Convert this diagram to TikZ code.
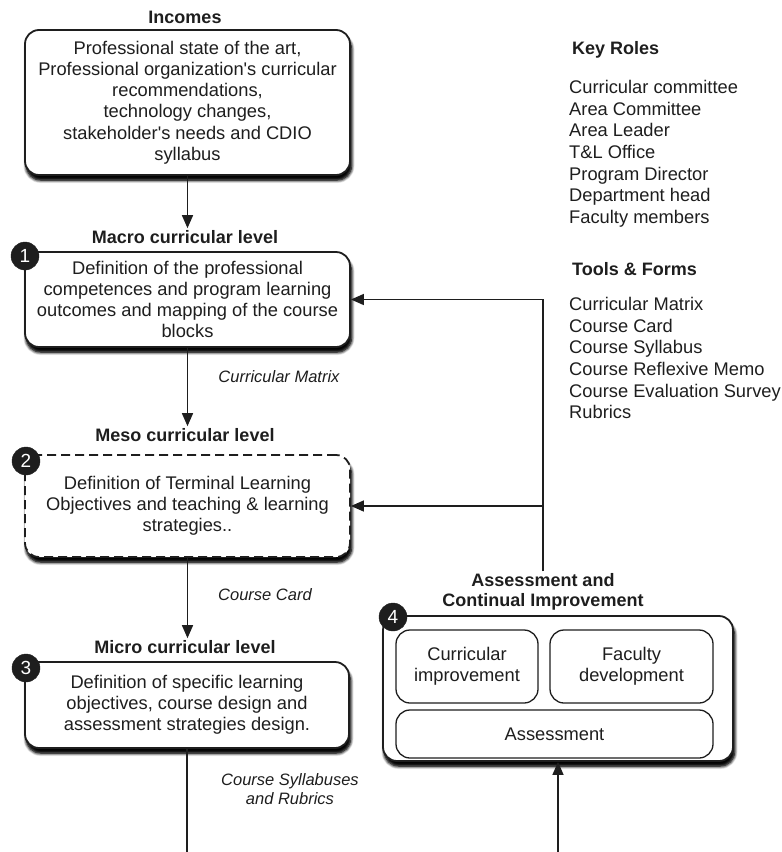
\documentclass[tikz,border=0pt]{standalone}
\usepackage{fontspec}
\setmainfont{Liberation Sans}
\usetikzlibrary{arrows.meta,shadows.blur,calc}
\definecolor{ink}{HTML}{1E1E1E}
\tikzset{
  shad/.style={blur shadow={shadow xshift=2pt, shadow yshift=-8pt, shadow blur radius=4pt, shadow blur steps=6, shadow opacity=100},
               blur shadow={shadow xshift=1.5pt, shadow yshift=-5pt, shadow blur radius=3pt, shadow blur steps=5, shadow opacity=90}},
  bigbox/.style={draw=ink, line width=1.8pt, rounded corners=14pt, fill=white, shad, align=center, inner sep=0pt, text=ink, font=\fontsize{18.3}{21.2}\selectfont},
  innerbox/.style={draw=ink, line width=1.3pt, rounded corners=14pt, fill=white, align=center, inner sep=0pt, text=ink, font=\fontsize{18.3}{21.2}\selectfont},
  ttl/.style={font=\bfseries\fontsize{18}{21}\selectfont, text=ink, align=center, inner sep=2pt},
  lbl/.style={font=\itshape\fontsize{16.5}{19}\selectfont, text=ink, align=center, fill=white, rounded corners=8pt, inner sep=4pt},
  num/.style={circle, fill=ink, draw=ink, text=white, minimum size=28pt, inner sep=0pt, font=\fontsize{19}{19}\selectfont},
  arr/.style={draw=ink, line width=1.4pt, -{Triangle[length=13pt,width=11pt]}},
  lin/.style={draw=ink, line width=1.4pt},
  listtxt/.style={font=\fontsize{18.3}{21.7}\selectfont, text=ink, align=left, anchor=north west, inner sep=0pt},
}
\begin{document}
\begin{tikzpicture}[x=1pt,y=-1pt]
\useasboundingbox (0,0) rectangle (782,852);

% Incomes
\node[ttl] (t0) at (185,17) {Incomes};
\node[bigbox, minimum width=325pt, minimum height=145pt] (b0) at (187.5,102.5)
  {Professional state of the art,\\Professional organization\textquotesingle s curricular\\recommendations,\\technology changes,\\stakeholder\textquotesingle s needs and CDIO\\syllabus};

% Macro
\node[ttl] (t1) at (185,237) {Macro curricular level};
\node[bigbox, minimum width=325pt, minimum height=95pt] (b1) at (187.5,299.5)
  {Definition of the professional\\competences and program learning\\outcomes and mapping of the course\\blocks};
\node[num] (n1) at (25,256) {1};

% Meso
\node[ttl] (t2) at (185,435) {Meso curricular level};
\node[bigbox, dashed, dash pattern=on 9pt off 5pt, minimum width=325pt, minimum height=102pt] (b2) at (187.5,506)
  {Definition of Terminal Learning\\Objectives and teaching \& learning\\strategies..};
\node[num] (n2) at (26,461) {2};

% Micro
\node[ttl] (t3) at (185,647) {Micro curricular level};
\node[bigbox, minimum width=324pt, minimum height=86pt] (b3) at (187,705)
  {Definition of specific learning\\objectives, course design and\\assessment strategies design.};
\node[num] (n3) at (26,668) {3};

% Assessment box
\node[ttl] (t4) at (543,592) {Assessment and\\[-1pt]Continual Improvement};
\node[bigbox, minimum width=350pt, minimum height=145pt] (b4) at (558,688.5) {};
\node[innerbox, minimum width=142pt, minimum height=73pt] (c1) at (467,666.5) {Curricular\\improvement};
\node[innerbox, minimum width=163pt, minimum height=73pt] (c2) at (631.5,666.5) {Faculty\\development};
\node[innerbox, minimum width=317pt, minimum height=48pt] (c3) at (554.5,734) {Assessment};
\node[num] (n4) at (393,617) {4};

% connectors
\draw[arr] (b0.south) -- (b0.south |- t1.north);
\draw[arr] (b1.south) -- (b1.south |- t2.north);
\draw[arr] (b2.south) -- (b2.south |- t3.north);
\coordinate (bot3) at (187,852);
\draw[lin] (b3.south) -- (bot3);
\coordinate (bot4) at (558,852);
\draw[arr] (bot4) -- (b4.south);
\draw[arr] (t4.north) -- (t4.north |- b1.east) -- (b1.east);
\draw[arr] (t4.north |- b2.east) -- (b2.east);

% labels
\node[lbl] (l1) at (279,377) {Curricular Matrix};
\node[lbl] (l2) at (265,595) {Course Card};
\node[lbl] (l3) at (290,789) {Course Syllabuses\\and Rubrics};

% right column
\node[ttl, anchor=west] (kr) at (570,50) {Key Roles};
\node[listtxt] (krl) at (569,80) {Curricular committee\\Area Committee\\Area Leader\\T\&L Office\\Program Director\\Department head\\Faculty members};
\node[ttl, anchor=west] (tf) at (570,269) {Tools \& Forms};
\node[listtxt] (tfl) at (569,297) {Curricular Matrix\\Course Card\\Course Syllabus\\Course Reflexive Memo\\Course Evaluation Survey\\Rubrics};
\end{tikzpicture}
\end{document}
